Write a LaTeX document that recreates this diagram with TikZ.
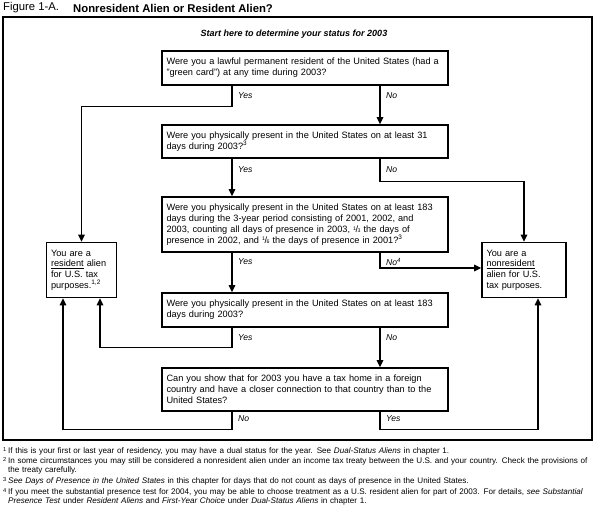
\documentclass[tikz,border=0pt]{standalone}
\usepackage{fontspec}
\setmainfont{Liberation Sans}
\usepackage{tikz}
\usetikzlibrary{positioning,arrows.meta}

\newcommand{\smallfr}[2]{\raisebox{0.45ex}{\fontsize{5.2}{6}\selectfont #1}\kern-0.05em/\kern-0.05em{\fontsize{5.2}{6}\selectfont #2}}

\begin{document}
\begin{tikzpicture}[x=1pt, y=-1pt,
    qbox/.style={rectangle, draw, line width=1.6pt, minimum width=286pt, text width=277pt, inner xsep=4.5pt, align=left, font=\fontsize{9.2}{10.8}\selectfont},
    abox/.style={rectangle, draw, line width=1.6pt, inner xsep=4.5pt, align=left, minimum height=55pt, font=\fontsize{9.2}{10.8}\selectfont},
    lbl/.style={anchor=west, inner sep=0pt, font=\fontsize{8.6}{10}\selectfont\itshape},
    arr/.style={line width=1.2pt, -{Triangle[width=6.5pt,length=7pt]}},
    fnote/.style={anchor=north west, inner sep=0pt, text width=584pt, align=left, font=\fontsize{8.1}{9}\selectfont}]
      \useasboundingbox (0,0) rectangle (595,513);
      % heading and frame
      \node [anchor=west, inner sep=0pt, font=\fontsize{11.3}{13}\selectfont]          (fig) at (  3,  8) {Figure 1-A.};
      \node [anchor=west, inner sep=0pt, font=\fontsize{11.3}{13}\selectfont\bfseries] (ttl) at ( 73,  8) {Nonresident Alien or Resident Alien?};
      \draw [line width=1.6pt] (3,17) rectangle (592,440);
      \node [font=\fontsize{9}{11}\selectfont\bfseries\itshape] (start) at (294, 34) {Start here to determine your status for 2003};
      % column of questions
      \coordinate (lx) at (232, 0);
      \coordinate (rx) at (380, 0);
      \node [qbox, minimum height=34pt] (q1) at (305,  68.0) {Were you a lawful permanent resident of the United States (had a\\ "green card") at any time during 2003?};
      \node [qbox, minimum height=33pt] (q2) at (305, 141.5) {Were you physically present in the United States on at least 31\\ days during 2003?\textsuperscript{3}};
      \node [qbox, minimum height=55pt] (q3) at (305, 224.5) {Were you physically present in the United States on at least 183\\ days during the 3-year period consisting of 2001, 2002, and\\ 2003, counting all days of presence in 2003, \smallfr{1}{3} the days of\\ presence in 2002, and \smallfr{1}{6} the days of presence in 2001?\textsuperscript{3}};
      \node [qbox, minimum height=34pt] (q4) at (305, 310.0) {Were you physically present in the United States on at least 183\\ days during 2003?};
      \node [qbox, minimum height=43pt] (q5) at (305, 389.5) {Can you show that for 2003 you have a tax home in a foreign\\ country and have a closer connection to that country than to the\\ United States?};
      % answers
      \node [abox, minimum width=70pt, text width=61pt] (res)  at ( 81.5, 270) {You are a\\ \underline{resident} alien\\ for U.S. tax\\ purposes.\textsuperscript{1,2}};
      \node [abox, minimum width=84pt, text width=75pt] (nres) at (524.0, 270) {You are a\\ \underline{nonresident}\\ alien for U.S.\\ tax purposes.};
      % branch labels
      \node [lbl] (y1) at (238,  96) {Yes};
      \node [lbl] (n1) at (386,  96) {No};
      \node [lbl] (y2) at (238, 170) {Yes};
      \node [lbl] (n2) at (386, 170) {No};
      \node [lbl] (y3) at (238, 262) {Yes};
      \node [lbl] (n3) at (386, 262) {No\textsuperscript{4}};
      \node [lbl] (y4) at (238, 338) {Yes};
      \node [lbl] (n4) at (386, 338) {No};
      \node [lbl] (n5) at (238, 419) {No};
      \node [lbl] (y5) at (386, 419) {Yes};
      % connectors
      \draw [arr] (q1.south -| lx) -- ++(0,21) -| (res.north);
      \draw [arr] (q1.south -| rx) -- (q2.north -| rx);
      \draw [arr] (q2.south -| lx) -- (q3.north -| lx);
      \draw [arr] (q2.south -| rx) -- ++(0,23) -| (nres.north);
      \draw [arr] (q3.south -| lx) -- (q4.north -| lx);
      \draw [arr] (q3.south -| rx) |- ([yshift=2pt]nres.west);
      \draw [arr] (q4.south -| lx) -- ++(0,20) -| ([xshift=18.5pt]res.south);
      \draw [arr] (q4.south -| rx) -- (q5.north -| rx);
      \draw [arr] (q5.south -| lx) -- ++(0,18) -| ([xshift=-18.5pt]res.south);
      \draw [arr] (q5.south -| rx) -- ++(0,18) -| ([xshift=14pt]nres.south);
      % footnotes
      \node [fnote] (f1) at (8, 447) {\llap{\textsuperscript{1}\,}If this is your first or last year of residency, you may have a dual status for the year. See \textit{Dual-Status Aliens} in chapter 1.};
      \node [fnote] (f2) at (8, 457) {\llap{\textsuperscript{2}\,}In some circumstances you may still be considered a nonresident alien under an income tax treaty between the U.S. and your country. Check the provisions of\\ the treaty carefully.};
      \node [fnote] (f3) at (8, 477) {\llap{\textsuperscript{3}\,}\textit{See Days of Presence in the United States} in this chapter for days that do not count as days of presence in the United States.};
      \node [fnote] (f4) at (8, 488) {\llap{\textsuperscript{4}\,}If you meet the substantial presence test for 2004, you may be able to choose treatment as a U.S. resident alien for part of 2003. For details, \textit{see Substantial}\\ \textit{Presence Test} under \textit{Resident Aliens} and \textit{First-Year Choice} under \textit{Dual-Status Aliens} in chapter 1.};
\end{tikzpicture}
\end{document}
